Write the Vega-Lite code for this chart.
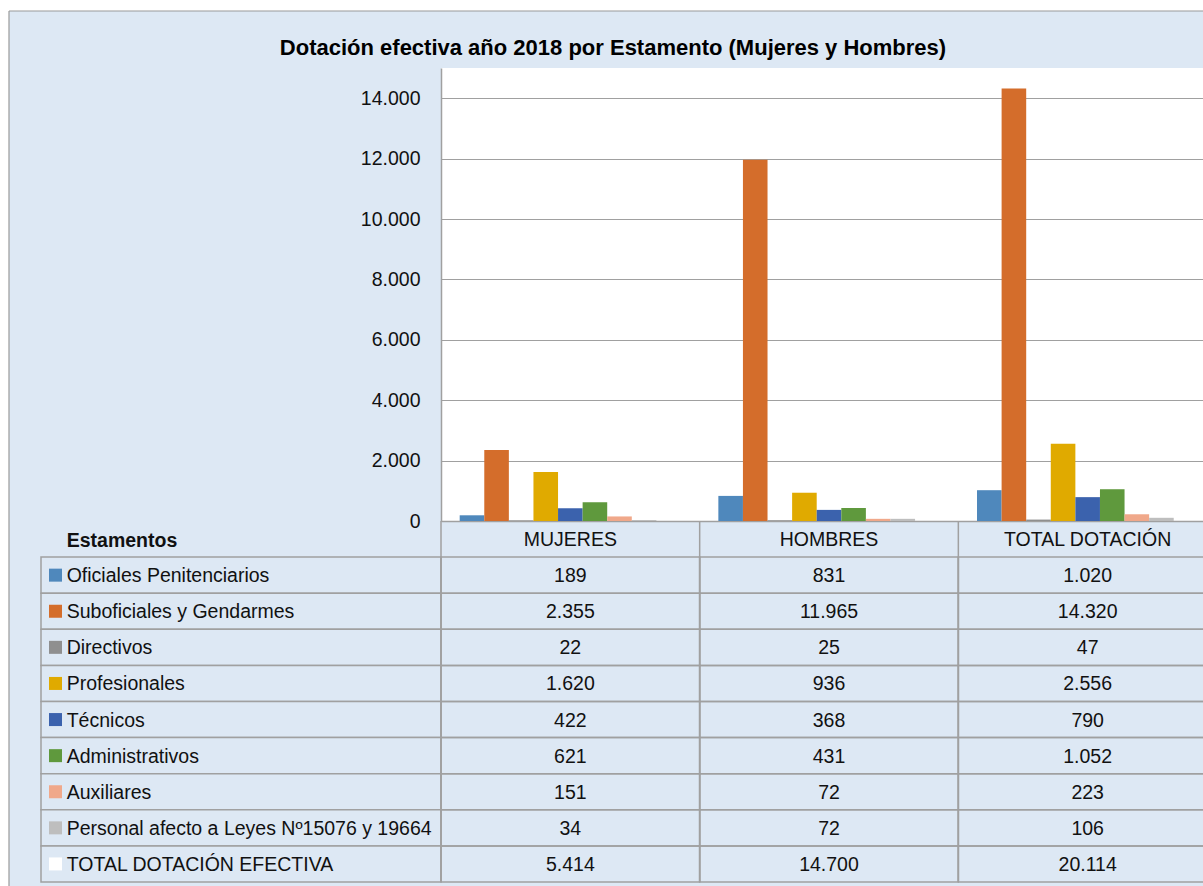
{
  "$schema": "https://vega.github.io/schema/vega-lite/v6.json",
  "background": "#dde8f4",
  "padding": 0,
  "datasets": {
    "tabla": [
      {"estamento": "Oficiales Penitenciarios", "grupo": "MUJERES", "valor": 189},
      {"estamento": "Oficiales Penitenciarios", "grupo": "HOMBRES", "valor": 831},
      {"estamento": "Oficiales Penitenciarios", "grupo": "TOTAL DOTACIÓN", "valor": 1020},
      {"estamento": "Suboficiales y Gendarmes", "grupo": "MUJERES", "valor": 2355},
      {"estamento": "Suboficiales y Gendarmes", "grupo": "HOMBRES", "valor": 11965},
      {"estamento": "Suboficiales y Gendarmes", "grupo": "TOTAL DOTACIÓN", "valor": 14320},
      {"estamento": "Directivos", "grupo": "MUJERES", "valor": 22},
      {"estamento": "Directivos", "grupo": "HOMBRES", "valor": 25},
      {"estamento": "Directivos", "grupo": "TOTAL DOTACIÓN", "valor": 47},
      {"estamento": "Profesionales", "grupo": "MUJERES", "valor": 1620},
      {"estamento": "Profesionales", "grupo": "HOMBRES", "valor": 936},
      {"estamento": "Profesionales", "grupo": "TOTAL DOTACIÓN", "valor": 2556},
      {"estamento": "Técnicos", "grupo": "MUJERES", "valor": 422},
      {"estamento": "Técnicos", "grupo": "HOMBRES", "valor": 368},
      {"estamento": "Técnicos", "grupo": "TOTAL DOTACIÓN", "valor": 790},
      {"estamento": "Administrativos", "grupo": "MUJERES", "valor": 621},
      {"estamento": "Administrativos", "grupo": "HOMBRES", "valor": 431},
      {"estamento": "Administrativos", "grupo": "TOTAL DOTACIÓN", "valor": 1052},
      {"estamento": "Auxiliares", "grupo": "MUJERES", "valor": 151},
      {"estamento": "Auxiliares", "grupo": "HOMBRES", "valor": 72},
      {"estamento": "Auxiliares", "grupo": "TOTAL DOTACIÓN", "valor": 223},
      {"estamento": "Personal afecto a Leyes Nº15076 y 19664", "grupo": "MUJERES", "valor": 34},
      {"estamento": "Personal afecto a Leyes Nº15076 y 19664", "grupo": "HOMBRES", "valor": 72},
      {"estamento": "Personal afecto a Leyes Nº15076 y 19664", "grupo": "TOTAL DOTACIÓN", "valor": 106},
      {"estamento": "TOTAL DOTACIÓN EFECTIVA", "grupo": "MUJERES", "valor": 5414},
      {"estamento": "TOTAL DOTACIÓN EFECTIVA", "grupo": "HOMBRES", "valor": 14700},
      {"estamento": "TOTAL DOTACIÓN EFECTIVA", "grupo": "TOTAL DOTACIÓN", "valor": 20114}
    ],
    "cabecera": [
      {"texto": "Estamentos"}
    ],
    "titulo": [
      {"texto": "Dotación efectiva año 2018 por Estamento (Mujeres y Hombres)"}
    ]
  },
  "spacing": 0,
  "bounds": "flush",
  "vconcat": [
    {
      "width": 1217,
      "height": 68,
      "view": {"stroke": null},
      "layer": [
        {
          "data": {"name": "titulo"},
          "mark": {"type": "rect", "fill": "#ffffff"},
          "encoding": {
            "x": {"datum": 0, "type": "quantitative", "scale": {"domain": [0, 1217], "nice": false, "zero": false}, "axis": null},
            "x2": {"datum": 1217},
            "y": {"datum": 57, "type": "quantitative", "scale": {"domain": [0, 68], "nice": false, "zero": false}, "axis": null},
            "y2": {"datum": 68}
          }
        },
        {
          "data": {"name": "titulo"},
          "mark": {"type": "rect", "fill": "#ffffff"},
          "encoding": {
            "x": {"datum": 0, "type": "quantitative"},
            "x2": {"datum": 9},
            "y": {"datum": 0, "type": "quantitative"},
            "y2": {"datum": 68}
          }
        },
        {
          "data": {"name": "titulo"},
          "mark": {"type": "rule", "stroke": "#9a9a9a", "strokeWidth": 1.2},
          "encoding": {
            "x": {"datum": 9, "type": "quantitative"},
            "x2": {"datum": 1217},
            "y": {"datum": 57, "type": "quantitative"}
          }
        },
        {
          "data": {"name": "titulo"},
          "mark": {"type": "rule", "stroke": "#9a9a9a", "strokeWidth": 1.2},
          "encoding": {
            "x": {"datum": 9, "type": "quantitative"},
            "y": {"datum": 0, "type": "quantitative"},
            "y2": {"datum": 57}
          }
        },
        {
          "data": {"name": "titulo"},
          "mark": {"type": "text", "align": "center", "baseline": "alphabetic", "fontSize": 22, "fontWeight": "bold", "color": "#000000"},
          "encoding": {
            "x": {"datum": 613, "type": "quantitative"},
            "y": {"datum": 13.5, "type": "quantitative"},
            "text": {"field": "texto"}
          }
        }
      ]
    },
    {
      "columns": 2,
      "spacing": 0,
      "bounds": "flush",
      "concat": [
        {
          "width": 441,
          "height": 453,
          "view": {"stroke": null},
          "layer": [
            {
              "data": {"name": "cabecera"},
              "mark": {"type": "rect", "fill": "#ffffff"},
              "encoding": {
                "x": {"datum": 0, "type": "quantitative", "scale": {"domain": [0, 441], "nice": false, "zero": false}, "axis": null},
                "x2": {"datum": 9}
              }
            },
            {
              "data": {"name": "cabecera"},
              "mark": {"type": "rule", "stroke": "#9a9a9a", "strokeWidth": 1.2},
              "encoding": {
                "x": {"datum": 9, "type": "quantitative"}
              }
            }
          ]
        },
        {
          "width": 776,
          "height": 453,
          "view": {"fill": "#ffffff", "stroke": null},
          "data": {"name": "tabla"},
          "transform": [{"filter": "datum.estamento !== 'TOTAL DOTACIÓN EFECTIVA'"}],
          "mark": {"type": "bar"},
          "encoding": {
            "x": {
              "field": "grupo", "type": "nominal", "sort": null,
              "scale": {"domain": ["MUJERES", "HOMBRES", "TOTAL DOTACIÓN"], "paddingInner": 0, "paddingOuter": 0},
              "axis": {"labels": false, "ticks": false, "title": null, "grid": false, "domain": true, "domainColor": "#a0a0a0", "domainWidth": 1.5}
            },
            "xOffset": {
              "field": "estamento", "type": "nominal", "sort": null,
              "scale": {"domain": ["Oficiales Penitenciarios", "Suboficiales y Gendarmes", "Directivos", "Profesionales", "Técnicos", "Administrativos", "Auxiliares", "Personal afecto a Leyes Nº15076 y 19664", "TOTAL DOTACIÓN EFECTIVA"], "paddingInner": 0, "paddingOuter": 0.76}
            },
            "y": {
              "field": "valor", "type": "quantitative",
              "scale": {"domain": [0, 15000], "nice": false},
              "axis": {
                "values": [0, 2000, 4000, 6000, 8000, 10000, 12000, 14000],
                "format": ",d", "title": null, "ticks": false, "labelPadding": 21,
                "labelFont": "Liberation Sans, Arial, sans-serif",
                "labelFontSize": 19.5, "labelColor": "#111111",
                "domainColor": "#a0a0a0", "domainWidth": 1.5,
                "grid": true, "gridColor": "#a0a0a0", "gridWidth": 1.2
              }
            },
            "color": {
              "field": "estamento", "type": "nominal",
              "scale": {
                "domain": ["Oficiales Penitenciarios", "Suboficiales y Gendarmes", "Directivos", "Profesionales", "Técnicos", "Administrativos", "Auxiliares", "Personal afecto a Leyes Nº15076 y 19664", "TOTAL DOTACIÓN EFECTIVA"],
                "range": ["#4F88BC", "#D46D2B", "#8F8F8F", "#E0AA00", "#3B62AD", "#5F993D", "#F0A88A", "#BEBEBE", "#FFFFFF"]
              },
              "legend": null
            }
          }
        },
        {
          "width": 441,
          "height": 365,
          "view": {"stroke": null},
          "layer": [
            {
              "data": {"name": "cabecera"},
              "mark": {"type": "rect", "fill": "#ffffff"},
              "encoding": {
                "x": {"datum": -41, "type": "quantitative", "scale": {"domain": [-41, 400], "nice": false, "zero": false}, "axis": null},
                "x2": {"datum": -32}
              }
            },
            {
              "data": {"name": "cabecera"},
              "mark": {"type": "rule", "stroke": "#9a9a9a", "strokeWidth": 1.2},
              "encoding": {
                "x": {"datum": -32, "type": "quantitative"}
              }
            },
            {
              "data": {"name": "cabecera"},
              "mark": {"type": "text", "align": "left", "baseline": "middle", "fontWeight": "bold", "dy": 2},
              "encoding": {
                "x": {"datum": 25.7, "type": "quantitative"},
                "y": {"datum": "Estamentos", "type": "nominal",
                  "scale": {"domain": ["Estamentos", "Oficiales Penitenciarios", "Suboficiales y Gendarmes", "Directivos", "Profesionales", "Técnicos", "Administrativos", "Auxiliares", "Personal afecto a Leyes Nº15076 y 19664", "TOTAL DOTACIÓN EFECTIVA"], "paddingInner": 0, "paddingOuter": 0.0554, "align": 0},
                  "axis": null},
                "text": {"field": "texto"}
              }
            },
            {
              "data": {"name": "tabla"},
              "transform": [{"filter": "datum.grupo === 'MUJERES'"}],
              "mark": {"type": "rect", "fill": "#dde8f4", "stroke": "#a0a0a0", "strokeWidth": 1.5},
              "encoding": {
                "x": {"datum": 0, "type": "quantitative"},
                "x2": {"datum": 400},
                "y": {"field": "estamento", "type": "nominal", "sort": null}
              }
            },
            {
              "data": {"name": "tabla"},
              "transform": [{"filter": "datum.grupo === 'MUJERES'"}],
              "mark": {"type": "point", "shape": "square", "filled": true, "size": 169, "opacity": 1, "strokeWidth": 0},
              "encoding": {
                "x": {"datum": 14.5, "type": "quantitative"},
                "y": {"field": "estamento", "type": "nominal", "sort": null},
                "color": {
                  "field": "estamento", "type": "nominal",
                  "scale": {
                    "domain": ["Oficiales Penitenciarios", "Suboficiales y Gendarmes", "Directivos", "Profesionales", "Técnicos", "Administrativos", "Auxiliares", "Personal afecto a Leyes Nº15076 y 19664", "TOTAL DOTACIÓN EFECTIVA"],
                    "range": ["#4F88BC", "#D46D2B", "#8F8F8F", "#E0AA00", "#3B62AD", "#5F993D", "#F0A88A", "#BEBEBE", "#FFFFFF"]
                  },
                  "legend": null
                }
              }
            },
            {
              "data": {"name": "tabla"},
              "transform": [{"filter": "datum.grupo === 'MUJERES'"}],
              "mark": {"type": "text", "align": "left", "baseline": "middle", "dy": 1},
              "encoding": {
                "x": {"datum": 25.7, "type": "quantitative"},
                "y": {"field": "estamento", "type": "nominal", "sort": null},
                "text": {"field": "estamento"}
              }
            }
          ]
        },
        {
          "width": 776,
          "height": 365,
          "view": {"stroke": null},
          "layer": [
            {
              "data": {"name": "tabla"},
              "mark": {"type": "rect", "fill": null, "stroke": "#a0a0a0", "strokeWidth": 1.5},
              "encoding": {
                "x": {"field": "grupo", "type": "nominal", "sort": null,
                  "scale": {"domain": ["MUJERES", "HOMBRES", "TOTAL DOTACIÓN"], "paddingInner": 0, "paddingOuter": 0},
                  "axis": null},
                "y": {"field": "estamento", "type": "nominal", "sort": null,
                  "scale": {"domain": ["Estamentos", "Oficiales Penitenciarios", "Suboficiales y Gendarmes", "Directivos", "Profesionales", "Técnicos", "Administrativos", "Auxiliares", "Personal afecto a Leyes Nº15076 y 19664", "TOTAL DOTACIÓN EFECTIVA"], "paddingInner": 0, "paddingOuter": 0.0554, "align": 0},
                  "axis": null}
              }
            },
            {
              "data": {"name": "tabla"},
              "transform": [{"filter": "datum.estamento === 'Oficiales Penitenciarios'"}],
              "mark": {"type": "rule", "stroke": "#a0a0a0", "strokeWidth": 1.5},
              "encoding": {
                "x": {"field": "grupo", "type": "nominal", "sort": null, "bandPosition": 0},
                "y": {"datum": "Estamentos", "type": "nominal", "bandPosition": 0},
                "y2": {"datum": "TOTAL DOTACIÓN EFECTIVA", "bandPosition": 1}
              }
            },
            {
              "data": {"name": "tabla"},
              "mark": {"type": "text", "align": "center", "baseline": "middle", "dy": 1},
              "encoding": {
                "x": {"field": "grupo", "type": "nominal", "sort": null},
                "y": {"field": "estamento", "type": "nominal", "sort": null},
                "text": {"field": "valor", "type": "quantitative", "format": ",d"}
              }
            },
            {
              "data": {"name": "tabla"},
              "transform": [{"filter": "datum.estamento === 'Oficiales Penitenciarios'"}],
              "mark": {"type": "text", "align": "center", "baseline": "middle", "dy": 1},
              "encoding": {
                "x": {"field": "grupo", "type": "nominal", "sort": null},
                "y": {"datum": "Estamentos", "type": "nominal"},
                "text": {"field": "grupo"}
              }
            }
          ]
        }
      ]
    }
  ],
  "config": {
    "view": {"stroke": null},
    "font": "Liberation Sans, Arial, sans-serif",
    "text": {"font": "Liberation Sans, Arial, sans-serif", "fontSize": 19.5, "color": "#111111"},
    "locale": {"number": {"decimal": ",", "thousands": ".", "grouping": [3], "currency": ["$", ""]}}
  }
}
